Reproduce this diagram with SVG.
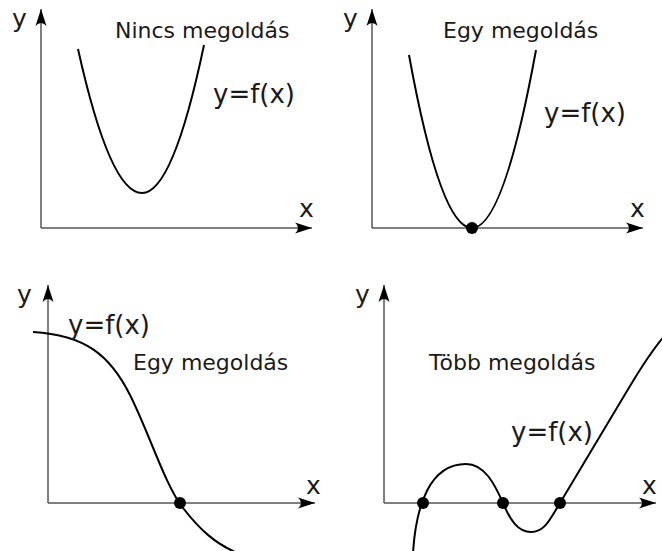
<svg xmlns="http://www.w3.org/2000/svg" width="662" height="551" viewBox="0 0 662 551">
<defs>
<marker id="arr" markerUnits="userSpaceOnUse" markerWidth="20" markerHeight="14" viewBox="-18 -7 20 14" refX="0" refY="0" orient="auto" overflow="visible">
<path d="M0,0 L-17,-5.5 Q-11,0 -17,5.5 Z" fill="#000"/>
</marker>
</defs>
<style>
.axis{stroke:#555;stroke-width:1.5;fill:none;marker-end:url(#arr)}
.curve{stroke:#000;stroke-width:2;fill:none}
.dot{fill:#000}
.t{font-family:"DejaVu Sans",Verdana,sans-serif;fill:#1a1a1a}
.title{font-size:22px}
.fx{font-size:26px}
.ax{font-size:25px}
</style>
<rect width="662" height="551" fill="#fff"/>
<g id="connectors">
<line class="axis" x1="41" y1="228" x2="41" y2="9"/>
<line class="axis" x1="41" y1="228" x2="312" y2="228"/>
<line class="axis" x1="372" y1="228" x2="372" y2="9"/>
<line class="axis" x1="372" y1="228" x2="643" y2="228"/>
<line class="axis" x1="48" y1="503" x2="48" y2="285"/>
<line class="axis" x1="48" y1="503" x2="315" y2="503"/>
<line class="axis" x1="384" y1="503" x2="384" y2="285"/>
<line class="axis" x1="384" y1="503" x2="656" y2="503"/>
</g>
<g id="panel1">
<path class="curve" d="M78,49 Q110,193 142,193 Q173,193 204,45"/>
<text class="t ax" x="12" y="27">y</text>
<text class="t ax" x="299" y="217">x</text>
<text class="t title" x="115" y="38">Nincs megoldás</text>
<text class="t fx" x="213" y="103">y=f(x)</text>
</g>
<g id="panel2">
<path class="curve" d="M409,55 Q440.5,228 472,228 Q503.5,228 536,50"/>
<circle class="dot" cx="472" cy="228" r="6"/>
<text class="t ax" x="343" y="27">y</text>
<text class="t ax" x="630" y="217">x</text>
<text class="t title" x="443" y="38">Egy megoldás</text>
<text class="t fx" x="544" y="122">y=f(x)</text>
</g>
<g id="panel3">
<path class="curve" d="M33,332 C85,335 110,355 130,395 C150,435 165,485 183,508 C200,530 215,543 235,552"/>
<circle class="dot" cx="180" cy="503" r="6"/>
<text class="t ax" x="17" y="303">y</text>
<text class="t ax" x="306" y="494">x</text>
<text class="t fx" x="68" y="334">y=f(x)</text>
<text class="t title" x="133" y="370">Egy megoldás</text>
</g>
<g id="panel4">
<path class="curve" d="M413,553 C416,505 430,464 466,464 C485,464 495,485 503,503 C510,520 518,532 531,532 C545,532 550,519 560,503 L630,386 C642,366 652,350 666,334"/>
<circle class="dot" cx="423" cy="503" r="6"/>
<circle class="dot" cx="503" cy="503" r="6"/>
<circle class="dot" cx="560" cy="503" r="6"/>
<text class="t ax" x="355" y="303">y</text>
<text class="t ax" x="642" y="494">x</text>
<text class="t title" x="429" y="370">Több megoldás</text>
<text class="t fx" x="511" y="441">y=f(x)</text>
</g>
</svg>
